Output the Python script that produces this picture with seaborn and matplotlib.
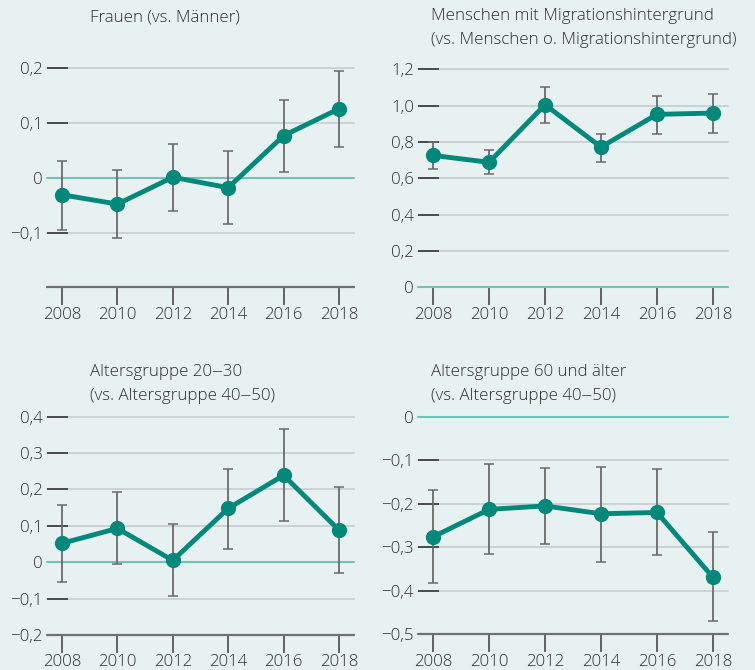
import numpy as np
import pandas as pd
import matplotlib.pyplot as plt
import seaborn as sns

sns.set_theme(style="white")
plt.rcParams["font.family"] = ["Open Sans", "DejaVu Sans"]

# Data
years = [2008, 2010, 2012, 2014, 2016, 2018]

frauen = [-0.031, -0.048, 0.001, -0.018, 0.077, 0.126]
frauen_lo = [-0.095, -0.110, -0.061, -0.084, 0.011, 0.056]
frauen_hi = [0.031, 0.015, 0.062, 0.049, 0.143, 0.195]

migration = [0.726, 0.688, 1.005, 0.772, 0.952, 0.959]
migration_lo = [0.649, 0.624, 0.903, 0.688, 0.842, 0.848]
migration_hi = [0.798, 0.757, 1.104, 0.842, 1.055, 1.066]

jung = [0.052, 0.093, 0.005, 0.148, 0.239, 0.088]
jung_lo = [-0.053, -0.005, -0.093, 0.036, 0.113, -0.030]
jung_hi = [0.158, 0.193, 0.106, 0.257, 0.365, 0.208]

alt = [-0.276, -0.213, -0.205, -0.223, -0.220, -0.369]
alt_lo = [-0.383, -0.315, -0.292, -0.333, -0.317, -0.470]
alt_hi = [-0.168, -0.109, -0.119, -0.115, -0.121, -0.266]

titles = [
    "Frauen (vs. Männer)",
    "Menschen mit Migrationshintergrund\n(vs. Menschen o. Migrationshintergrund)",
    "Altersgruppe 20\u201230\n(vs. Altersgruppe 40\u201250)",
    "Altersgruppe 60 und älter\n(vs. Altersgruppe 40\u201250)",
]
yticks = [
    [-0.1, 0, 0.1, 0.2],
    [0, 0.2, 0.4, 0.6, 0.8, 1.0, 1.2],
    [-0.2, -0.1, 0, 0.1, 0.2, 0.3, 0.4],
    [-0.5, -0.4, -0.3, -0.2, -0.1, 0],
]
ylims = [(-0.2, 0.2), (0, 1.2), (-0.2, 0.4), (-0.5, 0)]
ylabels = [
    ["\u22120,1", "0", "0,1", "0,2"],
    ["0", "0,2", "0,4", "0,6", "0,8", "1,0", "1,2"],
    ["\u22120,2", "\u22120,1", "0", "0,1", "0,2", "0,3", "0,4"],
    ["\u22120,5", "\u22120,4", "\u22120,3", "\u22120,2", "\u22120,1", "0"],
]
series = [
    (frauen, frauen_lo, frauen_hi),
    (migration, migration_lo, migration_hi),
    (jung, jung_lo, jung_hi),
    (alt, alt_lo, alt_hi),
]

BG = "#e8f1f2"
TEAL = "#00897b"
ZERO = "#6cc3ba"
GRID = "#c6cccd"
TXT = "#2e2e2e"
FS = 12.2

W, H = 755, 670
fig = plt.figure(figsize=(W / 100, H / 100), dpi=100, facecolor=BG)

# axes boxes in pixels: left, top, right, bottom
boxes = [
    (47, 68.3, 354, 287.3),
    (418, 69.3, 728, 287.3),
    (47, 416.7, 354, 635),
    (418, 416.7, 728, 634.3),
]
title_pos = [(90, 10), (431, 8), (90, 364), (431, 364)]

for i in range(4):
    l, t, r, b = boxes[i]
    ax = fig.add_axes([l / W, 1 - b / H, (r - l) / W, (b - t) / H])
    ax.set_facecolor(BG)
    vals, lo, hi = series[i]
    df = pd.DataFrame({"year": years, "value": vals})
    y0, y1 = ylims[i]

    # grid lines
    for v in yticks[i]:
        if v == 0:
            ax.axhline(0, color=ZERO, lw=1.5, zorder=1, clip_on=False)
        elif v != y0:
            ax.axhline(v, color=GRID, lw=1.2, zorder=0, clip_on=False)
    if y0 != 0:
        ax.axhline(y0, color="#707070", lw=1.6, zorder=1, clip_on=False)

    err = [np.array(vals) - np.array(lo), np.array(hi) - np.array(vals)]
    ax.errorbar(years, vals, yerr=err, fmt="none", ecolor="#6a6a6a",
                elinewidth=1.3, capsize=3.5, capthick=1.1, zorder=2, clip_on=False)
    sns.lineplot(data=df, x="year", y="value", ax=ax, color=TEAL, lw=3.5,
                 marker="o", markersize=11, markeredgewidth=0, zorder=3)
    for ln in ax.lines:
        ln.set_clip_on(False)

    ax.set_xlim(2007.46, 2018.54)
    ax.set_ylim(y0, y1)
    ax.set_xlabel("")
    ax.set_ylabel("")
    for s in ax.spines.values():
        s.set_visible(False)

    ax.set_xticks(years)
    ax.set_xticklabels([str(y) for y in years], fontweight="light")
    ax.tick_params(axis="x", direction="out", length=13, width=1.2,
                   color="#4a4a4a", labelsize=FS, labelcolor=TXT, pad=1,
                   bottom=True)

    ax.set_yticks(yticks[i])
    ax.set_yticklabels(ylabels[i], fontweight="light")
    ax.tick_params(axis="y", direction="in", length=15, width=1.2,
                   color="#333333", labelsize=FS, labelcolor=TXT, pad=3,
                   left=True)
    # hide the dash at zero (covered by the teal line)
    for tk, v in zip(ax.yaxis.get_major_ticks(), yticks[i]):
        if v == 0:
            tk.tick1line.set_visible(False)

    tx, ty = title_pos[i]
    fig.text(tx / W, 1 - ty / H, titles[i], ha="left", va="top",
             fontsize=FS, color=TXT, linespacing=1.7, fontweight="light")

plt.savefig("out.png", dpi=100, facecolor=BG)
